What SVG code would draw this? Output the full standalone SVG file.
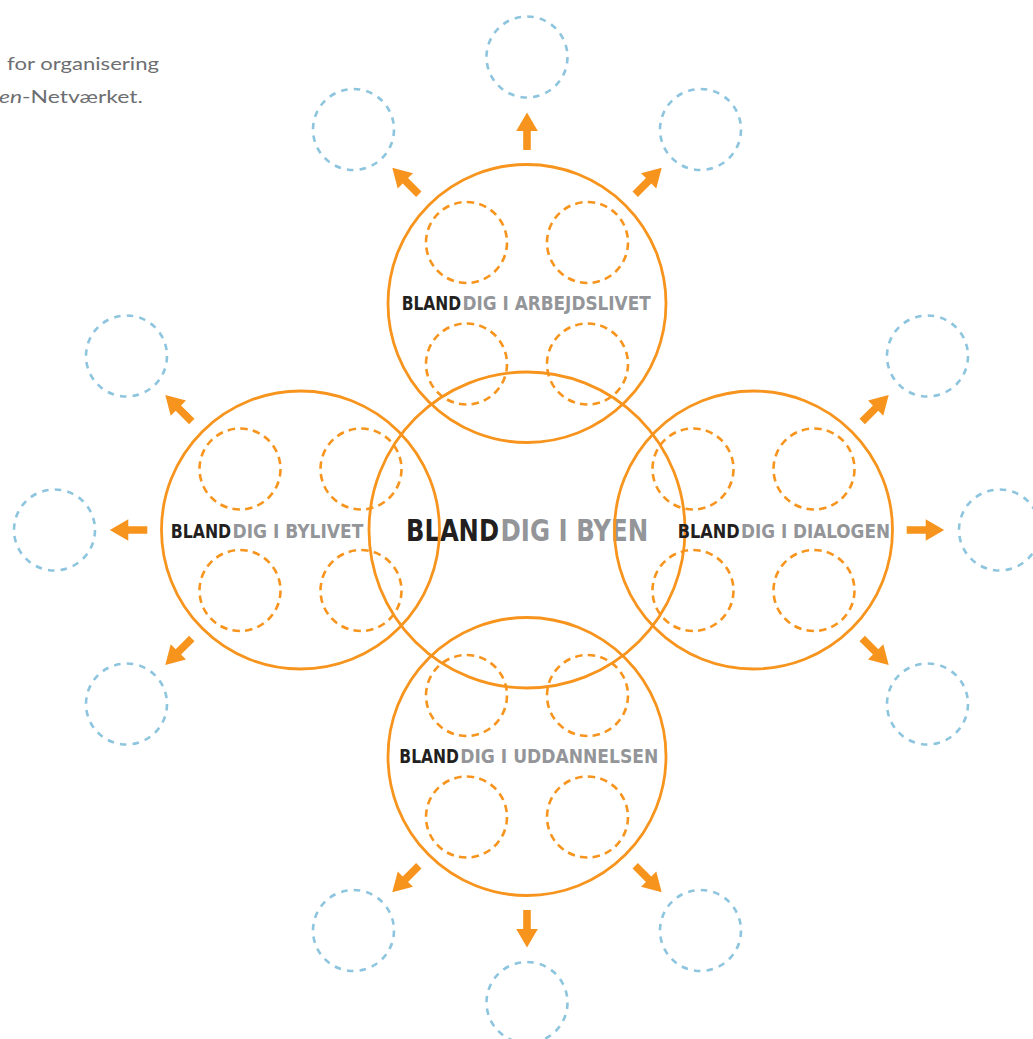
<svg xmlns="http://www.w3.org/2000/svg" xmlns:xlink="http://www.w3.org/1999/xlink" width="1033" height="1039" viewBox="0 0 1033 1039">
<style>
.main{fill:none;stroke:#F7941D;stroke-width:2.8}
.inner{fill:none;stroke:#F7941D;stroke-width:2.6;stroke-dasharray:7.5 5.22}
.outer{fill:none;stroke:#8EC5DE;stroke-width:2.6;stroke-dasharray:6.5 6.22}
.arrow{fill:#F7941D}
.lbl{font-family:"Liberation Sans Narrow","DejaVu Sans Condensed","Liberation Sans",sans-serif;font-weight:bold;font-stretch:condensed;font-size:20px}
.big{font-size:31px}
.blk{fill:#231F20}
.gry{fill:#939598}
.note{font-family:Lato,"Open Sans","Liberation Sans",sans-serif;font-size:18px;fill:#6D6E71}
</style>
<defs>
<path id="arr" d="M0,-3.8 H19 V-10.8 L37.5,0 L19,10.8 V3.8 H0 Z"/>
</defs>
<rect width="1033" height="1039" fill="#FFFFFF"/>
<g id="note">
<text class="note" x="7" y="70" textLength="152" lengthAdjust="spacingAndGlyphs">for organisering</text>
<text class="note" x="-1" y="103" textLength="144" lengthAdjust="spacingAndGlyphs"><tspan font-style="italic">en</tspan>-Netværket.</text>
</g>
<g id="node-center">
<text class="lbl big" y="540.5"><tspan class="blk" x="406" textLength="93" lengthAdjust="spacingAndGlyphs">BLAND</tspan><tspan class="gry" x="500.5" textLength="147.8" lengthAdjust="spacingAndGlyphs">DIG I BYEN</tspan></text>
<circle class="main" cx="527" cy="530" r="158"/>
</g>
<g id="node-top">
<text class="lbl" y="310"><tspan class="blk" x="401.7" textLength="59.5" lengthAdjust="spacingAndGlyphs">BLAND</tspan><tspan class="gry" x="462.5" textLength="188.2" lengthAdjust="spacingAndGlyphs">DIG I ARBEJDSLIVET</tspan></text>
<circle class="main" cx="527" cy="303.5" r="139"/>
<circle class="inner" cx="466.5" cy="242.5" r="40.5"/>
<circle class="inner" cx="587.5" cy="242.5" r="40.5"/>
<circle class="inner" cx="466.5" cy="364" r="40.5"/>
<circle class="inner" cx="587.5" cy="364" r="40.5"/>
</g>
<g id="node-left">
<text class="lbl" y="537.5"><tspan class="blk" x="170.7" textLength="60.5" lengthAdjust="spacingAndGlyphs">BLAND</tspan><tspan class="gry" x="232.5" textLength="130.8" lengthAdjust="spacingAndGlyphs">DIG I BYLIVET</tspan></text>
<circle class="main" cx="300.5" cy="530" r="139"/>
<circle class="inner" cx="240" cy="469" r="40.5"/>
<circle class="inner" cx="361" cy="469" r="40.5"/>
<circle class="inner" cx="240" cy="590.5" r="40.5"/>
<circle class="inner" cx="361" cy="590.5" r="40.5"/>
</g>
<g id="node-right">
<text class="lbl" y="537.7"><tspan class="blk" x="677.7" textLength="62" lengthAdjust="spacingAndGlyphs">BLAND</tspan><tspan class="gry" x="741" textLength="149" lengthAdjust="spacingAndGlyphs">DIG I DIALOGEN</tspan></text>
<circle class="main" cx="753.5" cy="530" r="139"/>
<circle class="inner" cx="693" cy="469" r="40.5"/>
<circle class="inner" cx="814" cy="469" r="40.5"/>
<circle class="inner" cx="693" cy="590.5" r="40.5"/>
<circle class="inner" cx="814" cy="590.5" r="40.5"/>
</g>
<g id="node-bottom">
<text class="lbl" y="763.3"><tspan class="blk" x="399.3" textLength="59.7" lengthAdjust="spacingAndGlyphs">BLAND</tspan><tspan class="gry" x="460.3" textLength="198" lengthAdjust="spacingAndGlyphs">DIG I UDDANNELSEN</tspan></text>
<circle class="main" cx="527" cy="756.5" r="139"/>
<circle class="inner" cx="466.5" cy="695.5" r="40.5"/>
<circle class="inner" cx="587.5" cy="695.5" r="40.5"/>
<circle class="inner" cx="466.5" cy="817" r="40.5"/>
<circle class="inner" cx="587.5" cy="817" r="40.5"/>
</g>
<g id="outer-nodes">
<g id="out-top"><circle class="outer" cx="527" cy="57" r="40.5"/></g>
<g id="out-top-left"><circle class="outer" cx="353.5" cy="129.5" r="40.5"/></g>
<g id="out-top-right"><circle class="outer" cx="700.5" cy="129.5" r="40.5"/></g>
<g id="out-right-upper"><circle class="outer" cx="927.5" cy="356" r="40.5"/></g>
<g id="out-right"><circle class="outer" cx="999.5" cy="530" r="40.5"/></g>
<g id="out-right-lower"><circle class="outer" cx="927.5" cy="704" r="40.5"/></g>
<g id="out-bottom-right"><circle class="outer" cx="700.5" cy="930.5" r="40.5"/></g>
<g id="out-bottom"><circle class="outer" cx="527" cy="1002.5" r="40.5"/></g>
<g id="out-bottom-left"><circle class="outer" cx="353.5" cy="930.5" r="40.5"/></g>
<g id="out-left-lower"><circle class="outer" cx="126.5" cy="704" r="40.5"/></g>
<g id="out-left"><circle class="outer" cx="54.5" cy="530" r="40.5"/></g>
<g id="out-left-upper"><circle class="outer" cx="126.5" cy="356" r="40.5"/></g>
</g>
<g id="connectors" class="arrow">
<use xlink:href="#arr" href="#arr" transform="translate(527,150) rotate(-90)"/>
<use xlink:href="#arr" href="#arr" transform="translate(418.8,194.2) rotate(-135)"/>
<use xlink:href="#arr" href="#arr" transform="translate(635.2,194.2) rotate(-45)"/>
<use xlink:href="#arr" href="#arr" transform="translate(906.7,530) rotate(0)"/>
<use xlink:href="#arr" href="#arr" transform="translate(862.2,421.5) rotate(-45)"/>
<use xlink:href="#arr" href="#arr" transform="translate(862.2,638.5) rotate(45)"/>
<use xlink:href="#arr" href="#arr" transform="translate(527,910) rotate(90)"/>
<use xlink:href="#arr" href="#arr" transform="translate(418.8,865.8) rotate(135)"/>
<use xlink:href="#arr" href="#arr" transform="translate(635.2,865.8) rotate(45)"/>
<use xlink:href="#arr" href="#arr" transform="translate(147.3,530) rotate(180)"/>
<use xlink:href="#arr" href="#arr" transform="translate(191.8,421.5) rotate(-135)"/>
<use xlink:href="#arr" href="#arr" transform="translate(191.8,638.5) rotate(135)"/>
</g>
</svg>
